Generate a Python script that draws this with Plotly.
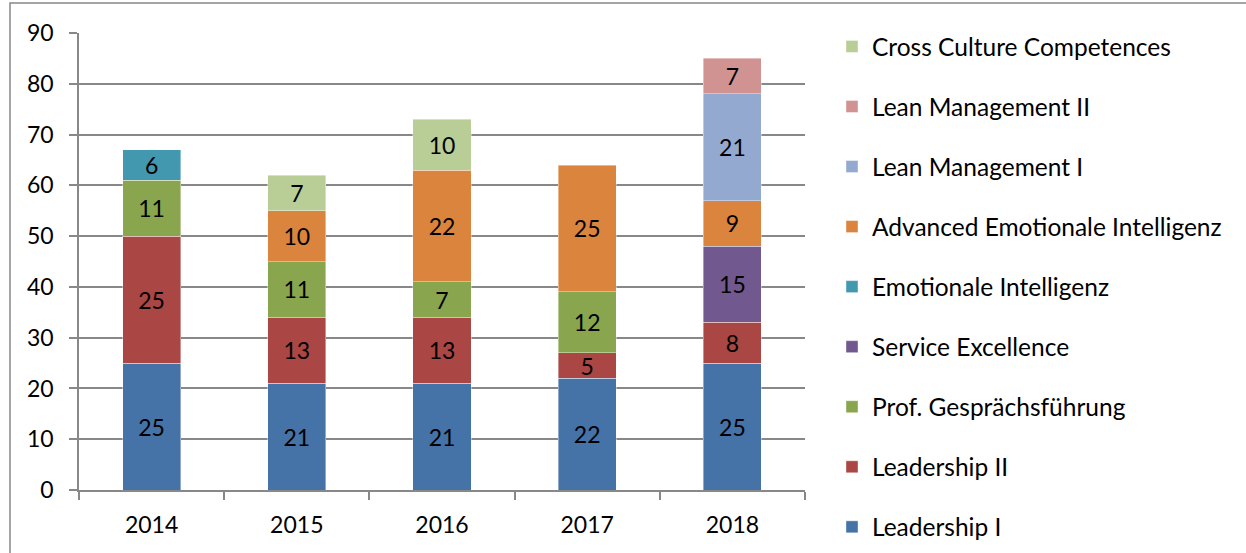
import plotly.graph_objects as go

years = ["2014", "2015", "2016", "2017", "2018"]
series_names = [
    "Leadership I",
    "Leadership II",
    "Prof. Gesprächsführung",
    "Service Excellence",
    "Emotionale Intelligenz",
    "Advanced Emotionale Intelligenz",
    "Lean Management I",
    "Lean Management II",
    "Cross Culture Competences",
]
leadership_1 = [25, 21, 21, 22, 25]
leadership_2 = [25, 13, 13, 5, 8]
prof_gespraech = [11, 11, 7, 12, None]
service_exc = [None, None, None, None, 15]
emot_int = [6, None, None, None, None]
adv_emot_int = [None, 10, 22, 25, 9]
lean_1 = [None, None, None, None, 21]
lean_2 = [None, None, None, None, 7]
cross_culture = [None, 7, 10, None, None]
y_ticks = [0, 10, 20, 30, 40, 50, 60, 70, 80, 90]

values = [leadership_1, leadership_2, prof_gespraech, service_exc, emot_int,
          adv_emot_int, lean_1, lean_2, cross_culture]
colors = ["#4572A7", "#AA4643", "#89A54E", "#71588F", "#4198AF",
          "#DB843D", "#93A9CF", "#D19392", "#B9CD96"]

FONT = "Lato, Calibri, Carlito, sans-serif"
FS = 23
LFS = 24.5

fig = go.Figure()
for i, (name, vals, col) in enumerate(zip(series_names, values, colors)):
    fig.add_trace(go.Bar(
        x=years, y=vals, name=name, legendgroup=name, legendrank=100 - i,
        marker=dict(color=col, line=dict(color="rgba(255,255,255,0.5)", width=0.8)),
        text=[("" if v is None else str(v)) for v in vals],
        textposition="inside", insidetextanchor="middle",
        textangle=0, constraintext="none",
        textfont=dict(color="black", size=FS, family=FONT),
        width=0.4,
    ))

L, R, T, B = 79, 441, 33, 63
W, H = 1246, 553
pw, ph = W - L - R, H - T - B

fig.update_layout(
    width=W, height=H,
    barmode="stack",
    plot_bgcolor="white", paper_bgcolor="white",
    margin=dict(l=L, r=R, t=T, b=B, autoexpand=False),
    font=dict(family=FONT, size=FS, color="black"),
    showlegend=True,
    legend=dict(
        x=(832 - L) / pw, y=1 + (T - 24) / ph, xanchor="left", yanchor="top",
        traceorder="grouped", tracegroupgap=25.2,
        font=dict(size=LFS, family=FONT, color="black"),
        itemwidth=30, bgcolor="rgba(0,0,0,0)", maxheight=553,
    ),
    uniformtext=dict(mode=False),
)
fig.update_yaxes(
    range=[0, 90], tickvals=y_ticks, showgrid=True, gridcolor="#888888", gridwidth=1.5,
    showline=True, linecolor="#888888", linewidth=1.5,
    ticks="outside", ticklen=8, tickcolor="#888888", tickwidth=1.5,
    ticklabelstandoff=11, automargin=False,
    tickfont=dict(size=FS, family=FONT), zeroline=False, fixedrange=True,
)
fig.update_xaxes(
    type="category", range=[-0.5, 4.5], showline=True, linecolor="#888888", linewidth=1.5,
    ticks="outside", tickson="boundaries", ticklen=8, tickcolor="#888888", tickwidth=1.5,
    ticklabelstandoff=14, automargin=False,
    tickfont=dict(size=FS, family=FONT), showgrid=False,
)
# outer chart border (only top and left edges visible in the frame)
fig.add_shape(type="rect", xref="paper", yref="paper",
              x0=(10 - L) / pw, x1=(1270 - L) / pw,
              y0=-(580 - (H - B)) / ph, y1=1 + (T - 3) / ph,
              line=dict(color="#888888", width=1.5), fillcolor="rgba(0,0,0,0)", layer="below")

fig.write_html(
    "out.html",
    config={"displayModeBar": False},
    post_script="document.body.style.margin='0';document.body.style.overflow='hidden';",
)
